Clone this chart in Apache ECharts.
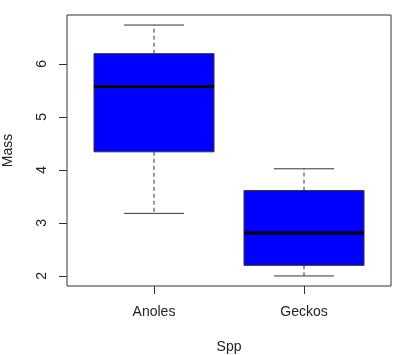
<!DOCTYPE html>
<html><head><meta charset="utf-8">
<script src="https://cdn.jsdelivr.net/npm/echarts@6/dist/echarts.min.js"></script>
<style>html,body{margin:0;padding:0;background:#fff}#c{width:400px;height:355px}</style>
</head><body><div id="c"></div>
<script>
const categories = ['Anoles', 'Geckos'];
const minVals = [3.18, 2.00];
const q1Vals = [4.34, 2.20];
const medianVals = [5.57, 2.81];
const q3Vals = [6.19, 3.61];
const maxVals = [6.73, 4.02];
const yTicks = [2, 3, 4, 5, 6];
const xTicks = [1, 2];

const data = categories.map((c, i) => [i + 1, minVals[i], q1Vals[i], medianVals[i], q3Vals[i], maxVals[i]]);
const font = 'Liberation Sans, Arial, sans-serif';
const chart = echarts.init(document.getElementById('c'));
chart.setOption({
  animation: false,
  grid: { left: 67, right: 9, top: 15, bottom: 69, containLabel: false, outerBoundsMode: 'none',
          show: true, borderColor: '#333', borderWidth: 1, backgroundColor: 'transparent' },
  xAxis: {
    type: 'value', min: 0.42, max: 2.58,
    name: 'Spp', nameLocation: 'middle', nameGap: 54,
    nameTextStyle: { fontFamily: font, fontSize: 14, color: '#222' },
    axisLine: { show: false }, splitLine: { show: false },
    axisTick: { show: true, length: 8, customValues: xTicks, lineStyle: { color: '#333' } },
    axisLabel: { customValues: xTicks, margin: 19, fontFamily: font, fontSize: 14, color: '#222',
      formatter: v => categories[Math.round(v) - 1] || '' }
  },
  yAxis: {
    type: 'value', min: 1.8108, max: 6.9192,
    name: 'Mass', nameLocation: 'middle', nameGap: 52,
    nameTextStyle: { fontFamily: font, fontSize: 14, color: '#222' },
    axisLine: { show: false }, splitLine: { show: false },
    axisTick: { show: true, length: 8, customValues: yTicks, lineStyle: { color: '#333' } },
    axisLabel: { customValues: yTicks, rotate: 90, margin: 18, fontFamily: font, fontSize: 14, color: '#222' }
  },
  series: [{
    type: 'custom',
    data: data,
    encode: { x: 0, y: [1, 2, 3, 4, 5] },
    renderItem: function (params, api) {
      const x = api.value(0);
      const halfBox = api.size([0.8, 0])[0] / 2;
      const halfCap = api.size([0.4, 0])[0] / 2;
      const pMin = api.coord([x, api.value(1)]);
      const pQ1 = api.coord([x, api.value(2)]);
      const pMed = api.coord([x, api.value(3)]);
      const pQ3 = api.coord([x, api.value(4)]);
      const pMax = api.coord([x, api.value(5)]);
      const cx = pMed[0];
      const lineCol = '#333';
      return {
        type: 'group',
        children: [
          { type: 'line', shape: { x1: cx, y1: pQ1[1], x2: cx, y2: pMin[1] },
            style: { stroke: lineCol, lineWidth: 1, lineDash: [4, 3] } },
          { type: 'line', shape: { x1: cx, y1: pQ3[1], x2: cx, y2: pMax[1] },
            style: { stroke: lineCol, lineWidth: 1, lineDash: [4, 3] } },
          { type: 'line', shape: { x1: cx - halfCap, y1: pMin[1], x2: cx + halfCap, y2: pMin[1] },
            style: { stroke: lineCol, lineWidth: 1 } },
          { type: 'line', shape: { x1: cx - halfCap, y1: pMax[1], x2: cx + halfCap, y2: pMax[1] },
            style: { stroke: lineCol, lineWidth: 1 } },
          { type: 'rect', shape: { x: cx - halfBox, y: pQ3[1], width: halfBox * 2, height: pQ1[1] - pQ3[1] },
            style: { fill: '#0000FF', stroke: lineCol, lineWidth: 1 } },
          { type: 'line', shape: { x1: cx - halfBox, y1: pMed[1], x2: cx + halfBox, y2: pMed[1] },
            style: { stroke: '#000', lineWidth: 3 } }
        ]
      };
    }
  }]
});
</script></body></html>
